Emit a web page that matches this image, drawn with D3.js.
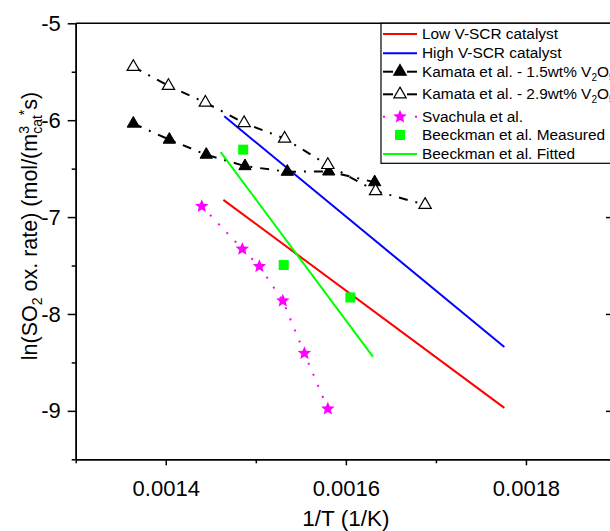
<!DOCTYPE html>
<html>
<head>
<meta charset="utf-8">
<script src="https://cdn.jsdelivr.net/npm/d3@7"></script>
<style>
  body { margin: 0; background: #fff; }
  svg { font-family: 'Liberation Sans', Arial, sans-serif; }
</style>
</head>
<body>
<div id="chart"></div>
<script>
'use strict';

// data
const lowVX = [0.001464, 0.001776];
const lowVY = [-6.822, -8.969];
const highVX = [0.001465, 0.001776];
const highVY = [-5.960, -8.341];
const kamata15X = [0.001364, 0.001404, 0.001445, 0.001488, 0.001535, 0.001581, 0.001632];
const kamata15Y = [-6.035, -6.201, -6.356, -6.474, -6.532, -6.529, -6.640];
const kamata29X = [0.001364, 0.001403, 0.001444, 0.001487, 0.001532, 0.001580, 0.001633, 0.001688];
const kamata29Y = [-5.449, -5.646, -5.818, -6.029, -6.190, -6.462, -6.731, -6.873];
const svachulaX = [0.00144, 0.001485, 0.001504, 0.00153, 0.001554, 0.00158];
const svachulaY = [-6.888, -7.329, -7.509, -7.864, -8.406, -8.979];
const beeckMeasX = [0.001486, 0.001531, 0.001605];
const beeckMeasY = [-6.304, -7.495, -7.830];
const beeckFitX = [0.001461, 0.001630];
const beeckFitY = [-6.329, -8.441];

const xMajor = [0.0014, 0.0016, 0.0018];
const xMinor = [0.0013, 0.0015, 0.0017, 0.0019];
const yMajor = [-9, -8, -7, -6, -5];
const yMinor = [-9.5, -8.5, -7.5, -6.5, -5.5];

const width = 610, height = 531;
const margin = {top: 23.3, right: -6, bottom: 71.7, left: 75.7};
const plotW = width - margin.left - margin.right;
const plotH = height - margin.top - margin.bottom;

var svg = d3.select('#chart').append('svg')
	.attr('width', width)
	.attr('height', height);

var x = d3.scaleLinear().domain([0.0013, 0.0019]).range([margin.left, margin.left + plotW]);
var y = d3.scaleLinear().domain([-9.5, -5]).range([margin.top + plotH, margin.top]);

function zip(xs, ys) {
	return xs.map(function(v, i) { return [v, ys[i]]; });
}

// axes
var fmtY = function(d) { return String(d); };
var axisG = svg.append('g');

function styleAxis(g) {
	g.selectAll('path').style('stroke', '#000').style('stroke-width', 1.5);
	g.selectAll('line').style('stroke', '#000').style('stroke-width', 1.5);
	g.selectAll('text').style('font-size', '22px').style('fill', '#000');
}

var bottom = axisG.append('g').attr('transform', 'translate(0,' + y(-9.5) + ')')
	.call(d3.axisBottom(x).tickValues(xMajor).tickSize(6).tickSizeOuter(0).tickPadding(15)
		.tickFormat(d3.format('.4f')));
styleAxis(bottom);
var bottomMinor = axisG.append('g').attr('transform', 'translate(0,' + y(-9.5) + ')')
	.call(d3.axisBottom(x).tickValues(xMinor).tickSize(4).tickSizeOuter(0).tickFormat(''));
styleAxis(bottomMinor);

var left = axisG.append('g').attr('transform', 'translate(' + x(0.0013) + ',0)')
	.call(d3.axisLeft(y).tickValues(yMajor).tickSize(8).tickSizeOuter(0).tickPadding(7).tickFormat(fmtY));
styleAxis(left);
var leftMinor = axisG.append('g').attr('transform', 'translate(' + x(0.0013) + ',0)')
	.call(d3.axisLeft(y).tickValues(yMinor).tickSize(4).tickSizeOuter(0).tickFormat(''));
styleAxis(leftMinor);

// right axis, ticks pointing in
var right = axisG.append('g').attr('transform', 'translate(' + x(0.0019) + ',0)')
	.call(d3.axisLeft(y).tickValues(yMajor).tickSize(10).tickSizeOuter(0).tickFormat(''));
styleAxis(right);

// top frame line
axisG.append('line')
	.attr('x1', x(0.0013)).attr('x2', x(0.0019))
	.attr('y1', y(-5)).attr('y2', y(-5))
	.style('stroke', '#000').style('stroke-width', 1.5);

// axis titles
svg.append('text')
	.attr('x', x(0.0016))
	.attr('y', 526)
	.style('text-anchor', 'middle')
	.style('font-size', '22.5px')
	.text('1/T (1/K)');

var yTitle = svg.append('text')
	.attr('transform', 'translate(37,226) rotate(-90)')
	.style('text-anchor', 'middle')
	.style('font-size', '21.5px');
yTitle.append('tspan').text('ln(SO');
yTitle.append('tspan').attr('dy', 5).style('font-size', '14px').text('2');
yTitle.append('tspan').attr('dy', -5).text(' ox. rate) (mol/(m');
yTitle.append('tspan').attr('dy', -8).style('font-size', '14px').text('3');
yTitle.append('tspan').attr('dy', 13).attr('dx', -7.8).style('font-size', '14px').text('cat');
yTitle.append('tspan').attr('dy', -13).style('font-size', '14px').text('*');
yTitle.append('tspan').attr('dy', 8).text('s)');

// series
var plot = svg.append('g');
var line = d3.line().x(function(d) { return x(d[0]); }).y(function(d) { return y(d[1]); });

plot.append('path').datum(zip(lowVX, lowVY)).attr('d', line)
	.style('fill', 'none').style('stroke', '#ff0000').style('stroke-width', 2);
plot.append('path').datum(zip(highVX, highVY)).attr('d', line)
	.style('fill', 'none').style('stroke', '#0000ff').style('stroke-width', 2);

// fatter five point star, closer to the original marker
var fatStar = {
	draw: function(context, size) {
		var r = Math.sqrt(size) * 0.62, ri = r * 0.45;
		for (var i = 0; i < 10; i++) {
			var a = -Math.PI / 2 + i * Math.PI / 5;
			var rr = i % 2 ? ri : r;
			if (i === 0) context.moveTo(rr * Math.cos(a), rr * Math.sin(a));
			else context.lineTo(rr * Math.cos(a), rr * Math.sin(a));
		}
		context.closePath();
	}
};

var triangle = d3.symbol().type(d3.symbolTriangle).size(66);
var star = d3.symbol().type(fatStar).size(130);
var square = d3.symbol().type(d3.symbolSquare).size(100);

plot.append('path').datum(zip(kamata15X, kamata15Y)).attr('d', line)
	.style('fill', 'none').style('stroke', '#000').style('stroke-width', 2)
	.style('stroke-dasharray', '9,8,2,8');
plot.selectAll('.k15').data(zip(kamata15X, kamata15Y)).enter().append('path')
	.attr('class', 'k15')
	.attr('transform', function(d) { return 'translate(' + x(d[0]) + ',' + y(d[1]) + ')'; })
	.attr('d', triangle)
	.style('fill', '#000').style('stroke', '#000');

plot.append('path').datum(zip(kamata29X, kamata29Y)).attr('d', line)
	.style('fill', 'none').style('stroke', '#000').style('stroke-width', 2)
	.style('stroke-dasharray', '9,8,2,8');
plot.selectAll('.k29').data(zip(kamata29X, kamata29Y)).enter().append('path')
	.attr('class', 'k29')
	.attr('transform', function(d) { return 'translate(' + x(d[0]) + ',' + y(d[1]) + ')'; })
	.attr('d', triangle)
	.style('fill', '#fff').style('stroke', '#000').style('stroke-width', 1.2);

plot.append('path').datum(zip(svachulaX, svachulaY)).attr('d', line)
	.style('fill', 'none').style('stroke', '#ff00ff').style('stroke-width', 2)
	.style('stroke-dasharray', '2,10');
plot.selectAll('.sv').data(zip(svachulaX, svachulaY)).enter().append('path')
	.attr('class', 'sv')
	.attr('transform', function(d) { return 'translate(' + x(d[0]) + ',' + y(d[1]) + ')'; })
	.attr('d', star)
	.style('fill', '#ff00ff');

plot.selectAll('.bm').data(zip(beeckMeasX, beeckMeasY)).enter().append('path')
	.attr('class', 'bm')
	.attr('transform', function(d) { return 'translate(' + x(d[0]) + ',' + y(d[1]) + ')'; })
	.attr('d', square)
	.style('fill', '#00ff00');

plot.append('path').datum(zip(beeckFitX, beeckFitY)).attr('d', line)
	.style('fill', 'none').style('stroke', '#00ff00').style('stroke-width', 2);

// legend
var legend = svg.append('g');
legend.append('rect')
	.attr('x', 381).attr('y', 23.3)
	.attr('width', 320).attr('height', 140)
	.style('fill', '#fff').style('stroke', '#000').style('stroke-width', 1.2);

var legendItems = [
	{label: 'Low V-SCR catalyst', type: 'line', color: '#ff0000', cy: 34, base: 39},
	{label: 'High V-SCR catalyst', type: 'line', color: '#0000ff', cy: 53.3, base: 58.3},
	{label: 'Kamata et al. - 1.5wt% V', sub: true, type: 'tri', fill: '#000', cy: 71.7, base: 76.7},
	{label: 'Kamata et al. - 2.9wt% V', sub: true, type: 'tri', fill: '#fff', cy: 94.3, base: 99.3},
	{label: 'Svachula et al.', type: 'star', cy: 116.7, base: 121.5},
	{label: 'Beeckman et al. Measured', type: 'square', cy: 135, base: 140},
	{label: 'Beeckman et al. Fitted', type: 'line', color: '#00ff00', cy: 154, base: 159}
];

legendItems.forEach(function(it) {
	var g = legend.append('g');
	if (it.type === 'line') {
		g.append('line').attr('x1', 383).attr('x2', 417).attr('y1', it.cy).attr('y2', it.cy)
			.style('stroke', it.color).style('stroke-width', 2);
	} else if (it.type === 'tri') {
		g.append('line').attr('x1', 383).attr('x2', 393).attr('y1', it.cy).attr('y2', it.cy)
			.style('stroke', '#000').style('stroke-width', 2);
		g.append('line').attr('x1', 407).attr('x2', 417).attr('y1', it.cy).attr('y2', it.cy)
			.style('stroke', '#000').style('stroke-width', 2);
		g.append('path').attr('transform', 'translate(400,' + it.cy + ')').attr('d', triangle)
			.style('fill', it.fill).style('stroke', '#000').style('stroke-width', 1.2);
	} else if (it.type === 'star') {
		g.append('line').attr('x1', 383).attr('x2', 417).attr('y1', it.cy).attr('y2', it.cy)
			.style('stroke', '#ff00ff').style('stroke-width', 2).style('stroke-dasharray', '2,30');
		g.append('path').attr('transform', 'translate(400,' + it.cy + ')').attr('d', star)
			.style('fill', '#ff00ff');
	} else if (it.type === 'square') {
		g.append('path').attr('transform', 'translate(400,' + it.cy + ')').attr('d', square)
			.style('fill', '#00ff00');
	}
	var t = g.append('text').attr('x', 422).attr('y', it.base).style('font-size', '15.4px');
	t.append('tspan').text(it.label);
	if (it.sub) {
		t.append('tspan').attr('dy', 4).style('font-size', '10px').text('2');
		t.append('tspan').attr('dy', -4).text('O');
		t.append('tspan').attr('dy', 4).style('font-size', '10px').text('5');
	}
});
</script>
</body>
</html>
